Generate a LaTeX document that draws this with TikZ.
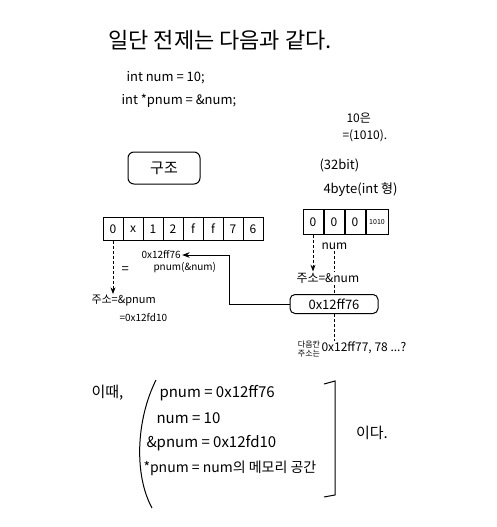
\documentclass[tikz,border=0pt]{standalone}
\usepackage{fontspec}
\setmainfont{Noto Sans CJK KR}
\usetikzlibrary{positioning, arrows.meta}

\tikzset{
    note/.style={inner sep=1pt, font=\fontsize{13}{15}\selectfont},
    small/.style={inner sep=1pt, font=\fontsize{10}{12}\selectfont},
    big/.style={inner sep=1pt, font=\fontsize{15}{17}\selectfont},
    cell/.style={draw, line width=0.9pt, minimum width=20pt, minimum height=23pt, inner sep=0pt, font=\fontsize{12}{14}\selectfont},
    dots/.style={densely dashed, line width=0.8pt},
}

\begin{document}
\begin{tikzpicture}[x=1pt, y=-1pt, line width=1pt, >=Stealth]
        \useasboundingbox (0,0) rectangle (497,527);

        \node[note, font=\fontsize{22}{25}\selectfont] (title) at (220,40) {일단 전제는 다음과 같다.};
        \node[note, anchor=west] (decl1) at (125,78) {int num = 10;};
        \node[note, anchor=west] (decl2) at (120,101) {int *pnum = \&num;};

        \node[small, anchor=west, font=\fontsize{12}{14}\selectfont] (ten) at (345,118) {10은};
        \node[small, anchor=west, font=\fontsize{12}{14}\selectfont] (bin) at (341,136) {=(1010).};
        \node[note, anchor=west] (bits) at (318,165) {(32bit)};
        \node[note, anchor=west] (bytes) at (322,190) {4byte(int 형)};

        \node[draw, rounded corners=6pt, minimum width=72pt, minimum height=32pt, font=\fontsize{15}{17}\selectfont] (struct) at (164,168) {구조};

        % memory of pnum
        \foreach \v [count=\i] in {0,x,1,2,f,f,7,6}
            \node[cell] (c\i) at (93+20*\i,229) {\v};

        \node[small, anchor=west] (ptrval) at (140,255) {0x12ff76};
        \node[note, anchor=west] (eq) at (120,270) {=};
        \node[small, anchor=west] (ptrname) at (152,268) {pnum(\&num)};
        \node[small, anchor=west, font=\fontsize{11}{13}\selectfont] (addrp) at (90,301) {주소=\&pnum};
        \node[small, anchor=west] (addrpv) at (118,318) {=0x12fd10};
        \draw[dots, ->] (c1.south) -- (addrp.north -| c1.south);

        % memory of num
        \foreach \v [count=\i] in {0,0,0}
            \node[cell, minimum height=25pt] (n\i) at (292+21*\i,222) {\v};
        \node[cell, font=\fontsize{7}{8}\selectfont, minimum width=22pt, minimum height=25pt] (n4) at (377,222) {1010};

        \node[small, anchor=west, font=\fontsize{12}{14}\selectfont] (numname) at (320,246) {num};
        \node[small, anchor=west, font=\fontsize{12}{14}\selectfont] (addrn) at (295,278) {주소=\&num};
        \node[draw, rounded corners=5pt, minimum width=88pt, minimum height=19pt, inner sep=0pt, font=\fontsize{13}{15}\selectfont] (boxaddr) at (334,304) {0x12ff76};

        \draw[dots, ->] (n1.south) -- (addrn.north -| n1.south);
        \draw[dots] (numname.south) -- (addrn.north -| numname.south);
        \draw[dots] (addrn.south -| boxaddr) -- (boxaddr.north);
        \draw[->] (boxaddr.west) -- ++(-60,0) |- (ptrval.east);

        \node[small, font=\fontsize{8}{9}\selectfont, align=left] (next) at (309,349) {다음칸\\주소는};
        \node[small, anchor=west, font=\fontsize{12}{14}\selectfont] (nextv) at (320,348) {0x12ff77, 78 ...?};
        \draw[dots] (boxaddr.south) -- (boxaddr.south |- nextv.north);

        % summary
        \node[big, anchor=west] (then) at (90,393) {이때,};
        \node[big, anchor=west] (s1) at (158,393) {pnum = 0x12ff76};
        \node[big, anchor=west] (s2) at (155,418) {num = 10};
        \node[big, anchor=west] (s3) at (145,443) {\&pnum = 0x12fd10};
        \node[big, anchor=west, font=\fontsize{14}{16}\selectfont] (s4) at (142,468) {*pnum = num의 메모리 공간};
        \node[big] (is) at (372,433) {이다.};

        \draw (156,380) .. controls (136,420) and (134,475) .. (152,508);
        \draw (324,384) -- (335,381) -- (335,495) -- (324,497);
    \end{tikzpicture}
\end{document}
